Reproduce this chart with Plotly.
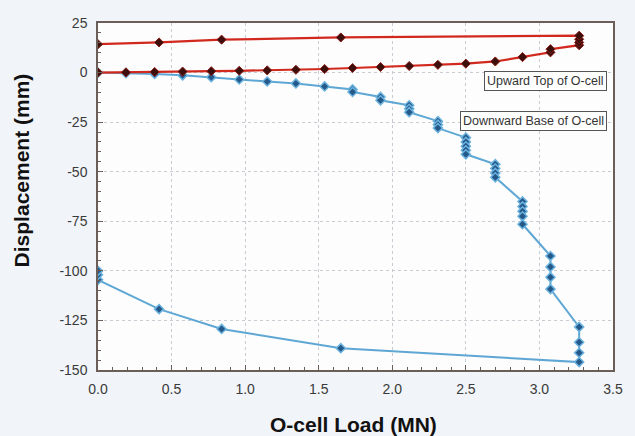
import plotly.graph_objects as go

# O-cell load test: upward movement of the top plate and downward movement of the base
up_load = [0.0, 0.19, 0.385, 0.575, 0.77, 0.96, 1.15, 1.345, 1.54, 1.73, 1.92, 2.115,
           2.31, 2.50, 2.70, 2.885, 3.075, 3.075, 3.27, 3.27, 3.27, 3.27,
           1.65, 0.84, 0.415, 0.0]
up_disp = [0.0, 0.1, 0.3, 0.5, 0.7, 0.9, 1.1, 1.4, 1.8, 2.3, 2.8, 3.3,
           3.9, 4.5, 5.6, 7.8, 10.2, 11.8, 13.8, 15.2, 16.8, 18.6,
           17.7, 16.6, 15.2, 14.3]

down_load = [0.0, 0.19, 0.385, 0.575, 0.77, 0.96, 1.15, 1.345, 1.54,
             1.73, 1.73, 1.92, 1.92, 2.115, 2.115, 2.115, 2.31, 2.31, 2.31,
             2.50, 2.50, 2.50, 2.50, 2.50,
             2.70, 2.70, 2.70, 2.70,
             2.885, 2.885, 2.885, 2.885, 2.885,
             3.075, 3.075, 3.075, 3.075,
             3.27, 3.27, 3.27, 3.27,
             1.65, 0.84, 0.415, 0.0, 0.0, 0.0]
down_disp = [0.0, -0.3, -0.7, -1.4, -2.3, -3.5, -4.5, -5.5, -7.0,
             -8.5, -9.8, -12.3, -14.0, -16.5, -18.3, -20.0, -24.5, -26.3, -28.0,
             -32.8, -35.0, -37.2, -39.2, -41.2,
             -46.2, -48.4, -50.6, -52.8,
             -65.0, -67.5, -70.0, -72.5, -76.5,
             -92.5, -98.0, -103.2, -109.2,
             -128.3, -136.0, -141.3, -146.0,
             -139.0, -129.3, -119.3, -104.5, -102.0, -100.0]

x_ticks = [0.0, 0.5, 1.0, 1.5, 2.0, 2.5, 3.0, 3.5]
x_tick_text = ["0.0", "0.5", "1.0", "1.5", "2.0", "2.5", "3.0", "3.5"]
y_ticks = [25, 0, -25, -50, -75, -100, -125, -150]
y_tick_text = ["25", "0", "-25", "-50", "-75", "-100", "-125", "-150"]

labels = ["Upward Top of O-cell", "Downward Base of O-cell"]
label_y = [-4.5, -24.6]

FONT = "Arial, Liberation Sans, sans-serif"

fig = go.Figure()

fig.add_trace(go.Scatter(
    x=down_load, y=down_disp, mode="lines+markers",
    line=dict(color="#5ea7d4", width=2),
    marker=dict(symbol="diamond", size=7, color="#24598a",
                line=dict(color="#6cb2de", width=1.5)),
    showlegend=False,
))

fig.add_trace(go.Scatter(
    x=up_load, y=up_disp, mode="lines+markers",
    line=dict(color="#d2291f", width=2.2),
    marker=dict(symbol="diamond", size=7, color="#3d0f0c",
                line=dict(color="#8a1a14", width=1)),
    showlegend=False,
))

for text, yv in zip(labels, label_y):
    fig.add_annotation(
        x=3.46, y=yv, xref="x", yref="y", text=text, showarrow=False,
        xanchor="right", yanchor="middle",
        font=dict(family=FONT, size=12.5, color="#333333"),
        bgcolor="#ffffff", bordercolor="#555555", borderwidth=1, borderpad=2,
    )

# axis titles
fig.add_annotation(
    x=0.497, y=-0.158, xref="paper", yref="paper", showarrow=False,
    text="<b>O-cell Load (MN)</b>", xanchor="center", yanchor="middle",
    font=dict(family=FONT, size=21, color="#111111"),
)
fig.add_annotation(
    x=-0.149, y=0.576, xref="paper", yref="paper", showarrow=False,
    text="<b>Displacement (mm)</b>", textangle=-90, xanchor="center", yanchor="middle",
    font=dict(family=FONT, size=21, color="#111111"),
)

axis_common = dict(
    showline=True, linecolor="#6b5d58", linewidth=1.5, mirror=True,
    showgrid=True, gridcolor="#c9cbd3", griddash="dot", gridwidth=1,
    ticks="inside", ticklen=5, tickcolor="#6b5d58",
    tickfont=dict(family=FONT, size=14, color="#3a3a3a"),
    zeroline=False,
)

fig.update_xaxes(
    range=[0, 3.5], tickvals=x_ticks, ticktext=x_tick_text,
    minor=dict(ticks="inside", dtick=0.1, ticklen=3, tickcolor="#6b5d58", showgrid=False),
    ticklabelstandoff=5,
    **axis_common,
)
fig.update_yaxes(
    range=[-150, 25], tickvals=y_ticks, ticktext=y_tick_text,
    minor=dict(ticks="inside", dtick=5, ticklen=3, tickcolor="#6b5d58", showgrid=False),
    ticklabelstandoff=6,
    **axis_common,
)

fig.update_layout(
    width=635, height=436,
    margin=dict(l=98, r=14, t=23, b=66),
    paper_bgcolor="#f1f4f8",
    plot_bgcolor="#fdfdfd",
    font=dict(family=FONT),
)

fig.write_html("out.html")
